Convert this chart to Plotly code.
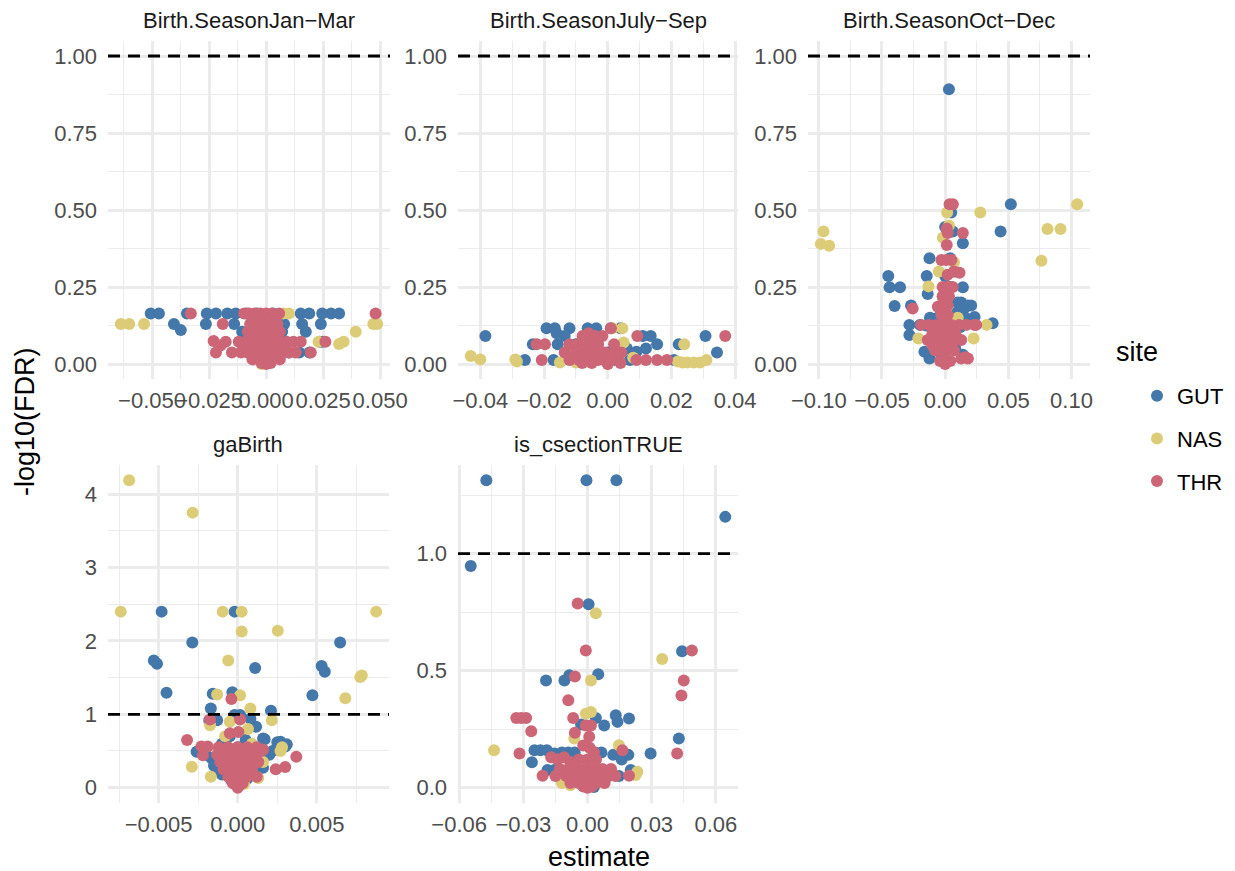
import math
import plotly.graph_objects as go

# ---------------- data (estimate, -log10(FDR)) ----------------
jan_gut = [(-0.0506,0.164),(-0.047,0.164),(-0.0347,0.164),(-0.026,0.164),(-0.022,0.164),(-0.017,0.164),(-0.0133,0.164),(-0.0085,0.164),(-0.004,0.164),(0.003,0.164),(0.0152,0.164),(0.0189,0.164),(0.0246,0.164),(0.0285,0.164),(0.032,0.164),
           (-0.0404,0.13),(-0.0264,0.13),(-0.014,0.13),(-0.005,0.13),(0.0079,0.13),(0.0158,0.13),(0.024,0.13),
           (-0.0374,0.11),(-0.0105,0.105),(0.007,0.105),(0.0174,0.105),
           (-0.011,0.072),(-0.006,0.072),(0.004,0.072),(0.0235,0.072),(0.0246,0.072),
           (-0.008,0.037),(0.005,0.037),(0.010,0.037),(0.0145,0.037),(0.019,0.037),
           (-0.003,0.02),(0.002,0.015),(0.0,0.01),(-0.0015,0.05),(0.006,0.025)]
jan_nas = [(-0.0637,0.13),(-0.060,0.13),(-0.0535,0.13),(0.0075,0.164),(0.010,0.164),(0.023,0.072),(0.032,0.065),(0.034,0.072),(0.0393,0.105),(0.047,0.13),(0.0487,0.13),
           (-0.002,0.0),(0.001,0.005),(0.0,0.01),(0.003,0.02),(-0.004,0.03)]
jan_thr = [(0.048,0.164),(-0.033,0.164),(-0.0096,0.164),(-0.019,0.13),(-0.0177,0.072),(-0.022,0.037),(0.0152,0.072),(0.0196,0.037),(0.026,0.072),
           (-0.0075,0.164),(-0.005,0.164),(-0.0025,0.164),(0.0,0.164),(0.0025,0.164),(0.0057,0.164),
           (-0.007,0.13),(-0.004,0.13),(-0.001,0.13),(0.002,0.13),(0.005,0.13),
           (-0.008,0.105),(-0.005,0.105),(-0.002,0.105),(0.001,0.105),(0.004,0.105),(0.006,0.105),
           (-0.012,0.072),(-0.009,0.072),(-0.006,0.072),(-0.003,0.072),(0.0,0.072),(0.003,0.072),(0.006,0.072),(0.009,0.072),(0.012,0.072),
           (-0.015,0.037),(-0.011,0.037),(-0.008,0.037),(-0.005,0.037),(-0.002,0.037),(0.001,0.037),(0.004,0.037),(0.007,0.037),(0.010,0.037),(0.013,0.037),
           (-0.006,0.015),(-0.003,0.015),(0.0,0.015),(0.003,0.015),(0.006,0.015),
           (-0.002,0.003),(0.0,0.0),(0.002,0.003),
           (-0.004,0.055),(0.002,0.055),(0.008,0.055),(-0.01,0.055),(-0.02,0.06),(-0.023,0.075)]

jul_gut = [(-0.0384,0.091),(-0.026,0.013),(-0.017,0.013),
           (-0.0192,0.116),(-0.0166,0.116),(-0.012,0.116),(-0.0063,0.116),(-0.0036,0.116),(0.001,0.116),(0.004,0.116),
           (-0.0135,0.091),(0.0135,0.091),(0.0307,0.091),(0.011,0.091),(-0.016,0.1),
           (-0.0235,0.064),(-0.0157,0.064),(0.0155,0.064),(0.0223,0.064),(-0.01,0.064),
           (0.0343,0.037),(0.0208,0.013),
           (-0.003,0.037),(0.0,0.037),(0.003,0.037),(0.006,0.05),(0.009,0.04),(0.012,0.05),
           (-0.005,0.013),(0.002,0.013),(0.007,0.013),(0.004,0.06)]
jul_nas = [(-0.043,0.026),(-0.040,0.015),(-0.0285,0.008),(-0.029,0.015),(0.0015,0.116),(0.0046,0.116),(0.024,0.064),(0.022,0.008),(0.0235,0.005),(0.025,0.005),(0.027,0.005),(0.029,0.005),(0.031,0.013),
           (-0.01,0.005),(0.0,0.0),(0.005,0.07),(-0.015,0.005),(0.008,0.02)]
jul_thr = [(0.001,0.116),(-0.0079,0.091),(-0.0017,0.091),(0.0093,0.091),(0.0369,0.091),(-0.004,0.091),(-0.006,0.1),
           (-0.0223,0.064),(-0.0197,0.064),(-0.012,0.064),(-0.0094,0.064),(-0.006,0.064),(-0.003,0.064),(0.002,0.064),
           (-0.0207,0.013),(0.009,0.013),(0.012,0.013),(0.0155,0.013),(0.0186,0.013),
           (-0.0135,0.037),(-0.01,0.037),(-0.007,0.037),(-0.004,0.037),(-0.001,0.037),(0.002,0.037),(0.0043,0.037),
           (-0.012,0.013),(-0.009,0.013),(-0.006,0.013),(-0.003,0.013),(0.0,0.013),(0.003,0.013),
           (-0.005,0.003),(0.0,0.0),(0.004,0.003),(-0.008,0.003)]

oct_gut = [(0.003,0.892),(0.052,0.519),(0.0439,0.43),(0.0048,0.492),(0.0,0.445),(0.006,0.43),(0.014,0.392),(-0.0124,0.343),(0.004,0.343),
           (-0.045,0.286),(-0.044,0.249),(-0.0357,0.249),(-0.040,0.188),(-0.0146,0.286),(0.0,0.286),(-0.0138,0.227),(-0.027,0.19),(0.014,0.249),
           (0.0127,0.2),(0.0206,0.19),(0.0233,0.153),(0.0376,0.132),(-0.0283,0.127),(-0.0283,0.094),(-0.0164,0.04),(-0.0124,0.018),
           (0.008,0.3),(0.004,0.25),(0.01,0.17),(0.016,0.15),(0.006,0.14),(-0.005,0.12),(-0.01,0.125),(-0.015,0.125),(-0.02,0.127),(0.012,0.12),
           (0.008,0.05),(-0.008,0.05),(0.014,0.03),(0.002,0.01),(-0.003,0.02),(-0.006,0.15),(0.018,0.19),
           (0.01,0.2),(0.015,0.18),(-0.012,0.15),(0.008,0.08),(0.011,0.14)]
oct_nas = [(-0.0963,0.43),(-0.0984,0.39),(-0.0918,0.384),(0.1045,0.519),(0.0278,0.492),(0.081,0.438),(0.0913,0.438),(0.0762,0.335),(0.0016,0.492),(-0.0018,0.41),
           (-0.0132,0.252),(-0.0212,0.083),(0.0328,0.127),(0.0225,0.083),(0.007,0.33),(-0.005,0.3),(0.0,0.1),(0.005,0.05),(-0.002,0.2),(0.01,0.15),(0.003,0.45)]
oct_thr = [(0.0061,0.519),(0.0035,0.519),(0.0013,0.44),(0.002,0.425),(0.014,0.425),(0.0013,0.386),(-0.0257,0.18),(0.0246,0.127),
           (-0.003,0.338),(0.001,0.338),(0.005,0.338),(0.0114,0.296),(0.002,0.29),(0.007,0.3),
           (-0.002,0.25),(0.002,0.25),(0.006,0.25),(-0.002,0.22),(0.003,0.22),
           (-0.0058,0.186),(-0.002,0.19),(0.002,0.19),(-0.003,0.16),(0.002,0.16),
           (-0.019,0.127),(-0.013,0.127),(-0.007,0.127),(-0.001,0.127),(0.005,0.127),(0.011,0.127),(0.017,0.127),(0.023,0.127),
           (-0.01,0.1),(-0.004,0.1),(0.002,0.1),(0.008,0.1),
           (-0.0138,0.078),(-0.008,0.078),(-0.002,0.078),(0.004,0.078),(0.0127,0.078),
           (-0.01,0.06),(-0.005,0.06),(0.0,0.06),(0.005,0.06),
           (-0.008,0.045),(-0.003,0.045),(0.002,0.045),(0.007,0.045),
           (0.0127,0.018),(0.016,0.022),(0.018,0.018),
           (-0.004,0.01),(0.0,0.01),(0.004,0.01),(0.0,0.0)]

ga_gut = [(-0.00481,2.40),(-0.0002,2.40),(-0.00287,1.98),(0.00647,1.98),(-0.0053,1.734),(-0.0051,1.69),(0.0011,1.63),(0.0053,1.66),(0.0055,1.58),(-0.0045,1.295),(0.00472,1.26),(-0.00158,1.28),(-0.00034,1.30),
          (-0.0017,1.08),(0.0021,1.05),(-0.0018,0.92),(-0.0013,0.92),(0.00116,0.83),(-0.0002,0.99),(0.00015,0.99),(0.0008,0.94),
          (0.0016,0.67),(0.0027,0.625),(0.0031,0.59),(-0.0026,0.49),(-0.00165,0.4),(-0.0013,0.26),(0.0016,0.27),(-0.0017,0.9),
          (0.0017,0.66),(0.0027,0.56),(0.003,0.56),
          (-0.001,0.6),(-0.0005,0.7),(0.0,0.55),(0.0005,0.65),(0.001,0.5),(-0.0008,0.35),(0.0012,0.35),(-0.0015,0.3),(0.002,0.45),(0.0,0.2),(-0.0004,0.1),(0.0006,0.12),(-0.001,0.18),(0.0012,0.2),
          (0.0022,0.5),(0.0025,0.62),(-0.002,0.45)]
ga_nas = [(-0.00686,4.19),(-0.00285,3.75),(-0.00739,2.40),(-0.00095,2.40),(0.00025,2.40),(0.00875,2.40),(0.00025,2.13),(0.00253,2.14),(-0.0006,1.734),(0.00774,1.51),(0.00784,1.53),(0.0068,1.22),(-0.0013,1.27),(0.00015,1.26),
          (0.0008,1.08),(0.00215,0.92),(-0.00175,0.85),(-0.0005,0.9),(0.0027,0.5),(0.0028,0.55),(-0.0029,0.285),(-0.0017,0.15),(0.00065,0.8),(0.0016,0.35),(0.0013,0.13),(-0.0008,0.7),(0.0004,0.05),(-0.0003,0.3),(0.0009,0.6)]
ga_thr = [(-0.0004,1.21),(-0.00175,0.93),(0.00015,0.93),(-0.0005,0.74),(0.00004,0.76),(-0.0032,0.65),(-0.0023,0.56),(-0.0019,0.56),(-0.0022,0.44),(0.0037,0.42),(0.0024,0.25),(0.003,0.28),(0.0015,0.5),(0.0016,0.52),
          (-0.0012,0.55),(-0.0006,0.55),(0.0,0.55),(0.0006,0.55),(0.0012,0.55),
          (-0.0013,0.45),(-0.0007,0.45),(-0.0001,0.45),(0.0005,0.45),(0.0011,0.45),
          (-0.0011,0.35),(-0.0005,0.35),(0.0001,0.35),(0.0007,0.35),(0.0013,0.35),
          (-0.0009,0.25),(-0.0003,0.25),(0.0003,0.25),(0.0009,0.25),
          (-0.0006,0.15),(0.0,0.15),(0.0006,0.15),(0.0012,0.15),
          (-0.0003,0.06),(0.0003,0.06),(0.0,0.0)]

cs_gut = [(-0.0473,1.313),(-0.0005,1.313),(0.0135,1.313),(0.0644,1.157),(-0.0546,0.947),(0.0005,0.784),(0.0442,0.583),(-0.0194,0.458),(-0.0108,0.458),(-0.0085,0.48),(0.005,0.485),
          (0.0039,0.298),(0.0078,0.266),(0.0132,0.309),(0.014,0.281),(0.0194,0.295),(-0.003,0.27),(0.0427,0.21),(0.0295,0.146),
          (-0.0248,0.16),(-0.022,0.16),(-0.019,0.16),(-0.0155,0.146),(-0.026,0.108),(-0.0187,0.075),(-0.0155,0.075),(-0.012,0.15),(-0.009,0.15),(-0.006,0.15),(0.0036,0.15),(0.0065,0.15),
          (0.012,0.14),(0.016,0.12),(0.0191,0.14),(0.0202,0.075),(0.0147,0.05),(-0.002,0.01),(0.003,0.003),(0.0,0.02),(0.008,0.04),(-0.008,0.06)]
cs_nas = [(0.0039,0.745),(0.0349,0.55),(0.0016,0.458),(-0.0008,0.316),(0.0016,0.323),(-0.0062,0.21),(-0.0437,0.16),(0.0147,0.181),(0.0233,0.068),(0.0225,0.054),
          (-0.012,0.02),(0.0075,0.02),(-0.004,0.05),(0.002,0.1),(-0.008,0.01)]
cs_thr = [(-0.0046,0.787),(-0.0008,0.586),(0.0488,0.586),(0.045,0.458),(0.0439,0.394),(-0.0059,0.475),(-0.009,0.373),(-0.0333,0.298),(-0.031,0.298),(-0.0287,0.298),(-0.0263,0.241),
          (-0.0067,0.298),(-0.0059,0.235),(-0.0008,0.266),(0.0016,0.266),(0.0008,0.217),(-0.0318,0.146),(0.0419,0.146),(0.0163,0.16),(-0.021,0.051),(0.0194,0.051),
          (-0.017,0.13),(-0.014,0.12),(-0.011,0.13),(-0.008,0.11),(-0.002,0.18),(0.001,0.17),(0.003,0.15),(-0.004,0.12),(0.0,0.12),(0.004,0.12),
          (-0.013,0.08),(-0.009,0.08),(-0.005,0.08),(-0.001,0.08),(0.003,0.08),(0.007,0.08),(0.011,0.08),
          (-0.015,0.05),(-0.01,0.05),(-0.006,0.05),(-0.002,0.05),(0.002,0.05),(0.006,0.05),(0.01,0.05),(0.013,0.05),
          (-0.008,0.02),(-0.004,0.02),(0.0,0.02),(0.004,0.02),(0.008,0.02),
          (0.0,0.0),(-0.002,0.005),(0.002,0.005)]

facet_names = ["Birth.SeasonJan\u2212Mar", "Birth.SeasonJuly\u2212Sep", "Birth.SeasonOct\u2212Dec", "gaBirth", "is_csectionTRUE"]
sites = ["GUT", "NAS", "THR"]
site_colors = {"GUT": "#4477AA", "NAS": "#DDCC77", "THR": "#CC6677"}
facet_data = [
    {"GUT": jan_gut, "NAS": jan_nas, "THR": jan_thr},
    {"GUT": jul_gut, "NAS": jul_nas, "THR": jul_thr},
    {"GUT": oct_gut, "NAS": oct_nas, "THR": oct_thr},
    {"GUT": ga_gut, "NAS": ga_nas, "THR": ga_thr},
    {"GUT": cs_gut, "NAS": cs_nas, "THR": cs_thr},
]
FDR_THRESHOLD = 0.1
x_dticks = [0.025, 0.02, 0.05, 0.005, 0.03]
x_formats = [".3f", ".2f", ".2f", ".3f", ".2f"]
y_dticks = [0.25, 0.25, 0.25, 1, 0.5]
y_formats = [".2f", ".2f", ".2f", "d", ".1f"]

# ---------------- layout geometry (pixels of the page) ----------------
PAGE_W, PAGE_H = 1235, 871
OFF = 8                       # default body margin of the page
W, H = PAGE_W - OFF, PAGE_H - OFF
panel_px = [  # left, right, top, bottom (page pixels)
    (108, 390, 40.6, 379.4),
    (458, 738, 40.6, 379.4),
    (808, 1090, 40.6, 379.4),
    (108, 389, 465, 803),
    (458, 738, 465, 803),
]
def fx(p): return (p - OFF) / W
def fy(p): return 1 - (p - OFF) / H

FONT = "Liberation Sans, Arial, Helvetica, sans-serif"
GRID = "#EBEBEB"
hline_y = -math.log10(FDR_THRESHOLD)

fig = go.Figure()
layout = {}
annotations = []
shapes = []
for i, (name, data) in enumerate(zip(facet_names, facet_data)):
    k = "" if i == 0 else str(i + 1)
    for s in sites:
        pts = data[s]
        fig.add_trace(go.Scatter(
            x=[p[0] for p in pts], y=[p[1] for p in pts], mode="markers",
            marker=dict(color=site_colors[s], size=12, line=dict(width=0)),
            name=s, legendgroup=s, showlegend=(i == 0),
            xaxis="x" + k, yaxis="y" + k, hoverinfo="x+y+name"))
    allx = [p[0] for s in sites for p in data[s]]
    ally = [p[1] for s in sites for p in data[s]] + [hline_y]
    x0, x1 = min(allx), max(allx)
    y0, y1 = min(ally), max(ally)
    ex, ey = 0.05 * (x1 - x0), 0.05 * (y1 - y0)
    l, r, t, b = panel_px[i]
    common = dict(showgrid=True, gridcolor=GRID, gridwidth=2.6, zeroline=False, showline=False,
                  automargin=False, ticks="",
                  tickfont=dict(family=FONT, size=22, color="#4D4D4D"), tick0=0)
    layout["xaxis" + k] = dict(common, domain=[fx(l), fx(r)], range=[x0 - ex, x1 + ex],
                               dtick=x_dticks[i], tickformat=x_formats[i], tickangle=0,
                               anchor="y" + k, ticklabelstandoff=6,
                               minor=dict(dtick=x_dticks[i] / 2, tick0=0, showgrid=True, gridcolor=GRID, gridwidth=1.3))
    layout["yaxis" + k] = dict(common, domain=[fy(b), fy(t)], range=[y0 - ey, y1 + ey],
                               dtick=y_dticks[i], tickformat=y_formats[i],
                               anchor="x" + k, ticklabelstandoff=10,
                               minor=dict(dtick=y_dticks[i] / 2, tick0=0, showgrid=True, gridcolor=GRID, gridwidth=1.3))
    shapes.append(dict(type="line", xref="x" + k + " domain", x0=0, x1=1, yref="y" + k, y0=hline_y, y1=hline_y,
                       line=dict(color="black", width=2.8, dash="12px,8px"), layer="above"))
    annotations.append(dict(text=name, x=fx((l + r) / 2), y=fy(t - 20), xref="paper", yref="paper",
                            showarrow=False, xanchor="center", yanchor="middle",
                            font=dict(family=FONT, size=22, color="#1A1A1A")))

annotations.append(dict(text="estimate", x=fx(599), y=fy(857), xref="paper", yref="paper", showarrow=False,
                        xanchor="center", yanchor="middle", font=dict(family=FONT, size=27, color="black")))
annotations.append(dict(text="-log10(FDR)", x=fx(25), y=fy(422), xref="paper", yref="paper", showarrow=False,
                        textangle=-90, xanchor="center", yanchor="middle", font=dict(family=FONT, size=27, color="black")))
annotations.append(dict(text="site", x=fx(1114), y=fy(352), xref="paper", yref="paper", showarrow=False,
                        xanchor="left", yanchor="middle", font=dict(family=FONT, size=27, color="black")))

fig.update_layout(**layout)
fig.update_layout(
    width=W, height=H, margin=dict(l=0, r=0, t=0, b=0, autoexpand=False),
    paper_bgcolor="white", plot_bgcolor="white",
    annotations=annotations, shapes=shapes,
    legend=dict(x=fx(1137), y=fy(375), xanchor="left", yanchor="top", tracegroupgap=11,
                itemsizing="constant",
                font=dict(family=FONT, size=22, color="black"), bgcolor="rgba(0,0,0,0)"),
    font=dict(family=FONT),
)
fig.write_html("out.html")
